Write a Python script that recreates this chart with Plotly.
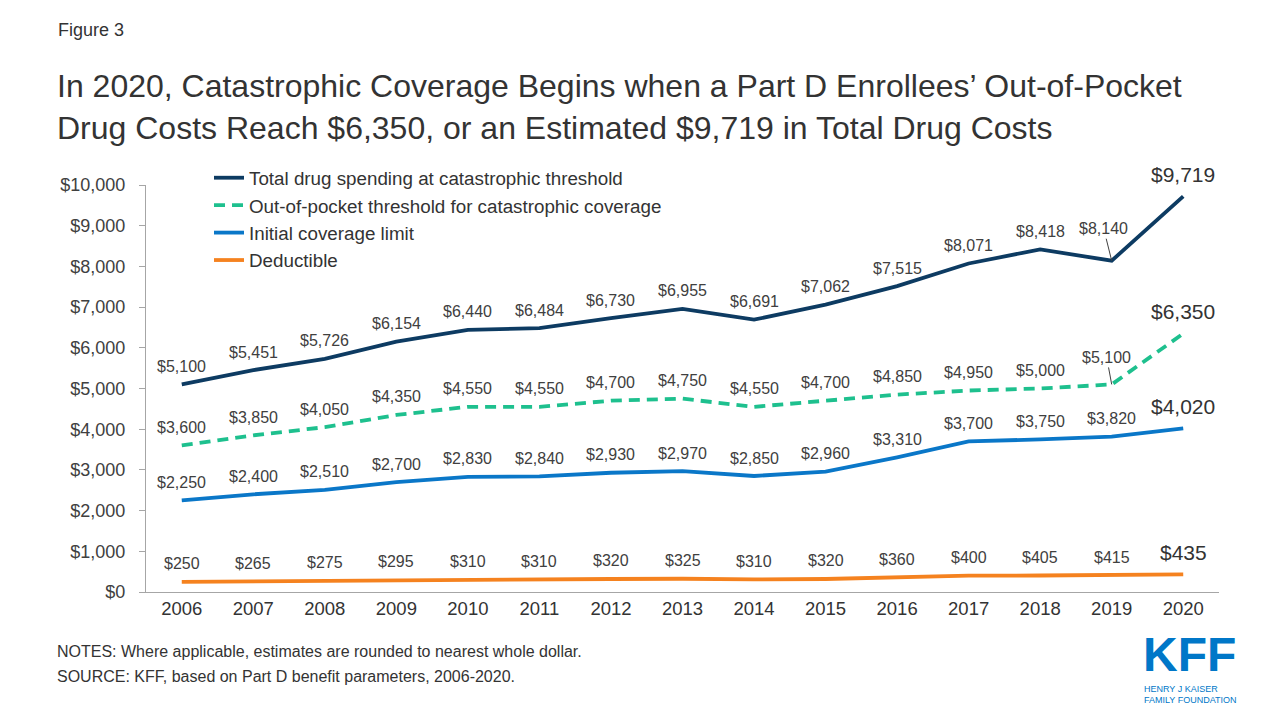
import plotly.graph_objects as go

years = [str(y) for y in range(2006, 2021)]
total_spending = [5100, 5451, 5726, 6154, 6440, 6484, 6730, 6955, 6691, 7062, 7515, 8071, 8418, 8140, 9719]
oop_threshold = [3600, 3850, 4050, 4350, 4550, 4550, 4700, 4750, 4550, 4700, 4850, 4950, 5000, 5100, 6350]
initial_limit = [2250, 2400, 2510, 2700, 2830, 2840, 2930, 2970, 2850, 2960, 3310, 3700, 3750, 3820, 4020]
deductible = [250, 265, 275, 295, 310, 310, 320, 325, 310, 320, 360, 400, 405, 415, 435]

series_names = [
    "Total drug spending at catastrophic threshold",
    "Out-of-pocket threshold for catastrophic coverage",
    "Initial coverage limit",
    "Deductible",
]
series_values = [total_spending, oop_threshold, initial_limit, deductible]
colors = ["#0D3B62", "#1EC08E", "#0A77C8", "#F5821F"]
dashes = ["solid", "11px,7px", "solid", "solid"]
# label offsets (pixels) for 2019 labels that use leader lines
leader = {0: (-8, -32), 1: (-5, -27)}

FONT = "Liberation Sans, Arial, sans-serif"
NARROW = "Liberation Sans Narrow, Arial Narrow, sans-serif"
TXT = "#404040"

W, H = 1280, 720
L, R, T, B = 146, 61, 185, 128
pw, ph = W - L - R, H - T - B


def px(x):
    return (x - L) / pw


def py(y):
    return (H - B - y) / ph


fig = go.Figure()
for name, vals, c, d in zip(series_names, series_values, colors, dashes):
    fig.add_trace(go.Scatter(
        x=years, y=vals, mode="lines", name=name,
        line=dict(color=c, width=3.8, dash=d),
    ))

annotations = []
for s, vals in enumerate(series_values):
    for i, v in enumerate(vals):
        txt = "${:,}".format(v)
        if i == len(vals) - 1:
            annotations.append(dict(x=i, y=v, xref="x", yref="y", text=txt, showarrow=False,
                                    yshift=22, font=dict(size=21, color="#333333", family=FONT)))
        elif i == len(vals) - 2 and s in leader:
            ax, ay = leader[s]
            annotations.append(dict(x=i, y=v, xref="x", yref="y", text=txt, showarrow=True,
                                    arrowhead=0, arrowwidth=1, arrowcolor="#404040",
                                    ax=ax, ay=ay, standoff=0,
                                    font=dict(size=16, color=TXT, family=FONT)))
        else:
            annotations.append(dict(x=i, y=v, xref="x", yref="y", text=txt, showarrow=False,
                                    yshift=18, font=dict(size=16, color=TXT, family=FONT)))

annotations += [
    dict(x=px(56), y=py(30), xref="paper", yref="paper", xanchor="left", yanchor="middle",
         text="Figure 3", showarrow=False, font=dict(size=18, color="#333333", family=FONT)),
    dict(x=px(55), y=py(107), xref="paper", yref="paper", xanchor="left", yanchor="middle",
         align="left",
         text="In 2020, Catastrophic Coverage Begins when a Part D Enrollees’ Out-of-Pocket<br>Drug Costs Reach $6,350, or an Estimated $9,719 in Total Drug Costs",
         showarrow=False, font=dict(size=32, color="#333333", family=FONT)),
    dict(x=px(55), y=py(651), xref="paper", yref="paper", xanchor="left", yanchor="middle",
         text="NOTES: Where applicable, estimates are rounded to nearest whole dollar.",
         showarrow=False, font=dict(size=16, color="#333333", family=FONT)),
    dict(x=px(55), y=py(676), xref="paper", yref="paper", xanchor="left", yanchor="middle",
         text="SOURCE: KFF, based on Part D benefit parameters, 2006-2020.",
         showarrow=False, font=dict(size=16, color="#333333", family=FONT)),
    dict(x=px(1141), y=py(654), xref="paper", yref="paper", xanchor="left", yanchor="middle",
         text="<b>KFF</b>", showarrow=False,
         font=dict(size=48, color="#0077C8", family=NARROW)),
    dict(x=px(1142), y=py(688.5), xref="paper", yref="paper", xanchor="left", yanchor="middle",
         text="HENRY J KAISER", showarrow=False,
         font=dict(size=9, color="#0077C8", family=FONT)),
    dict(x=px(1142), y=py(700), xref="paper", yref="paper", xanchor="left", yanchor="middle",
         text="FAMILY FOUNDATION", showarrow=False,
         font=dict(size=9, color="#0077C8", family=FONT)),
]

fig.update_layout(
    width=W, height=H,
    margin=dict(l=L, r=R, t=T, b=B),
    paper_bgcolor="white", plot_bgcolor="white",
    font=dict(family=FONT, color=TXT),
    showlegend=True,
    legend=dict(x=px(209), y=py(159), xanchor="left", yanchor="top",
                bgcolor="rgba(0,0,0,0)", font=dict(size=18.8, color="#333333", family=FONT),
                itemwidth=30, tracegroupgap=0),
    annotations=annotations,
    xaxis=dict(type="category", range=[-0.5, 14.5], showgrid=False, showline=True,
               linecolor="#A6A6A6", linewidth=1, ticks="", zeroline=False,
               tickfont=dict(size=18.5, color="#333333", family=FONT)),
    yaxis=dict(range=[0, 10000], dtick=1000, showgrid=False, showline=True,
               linecolor="#A6A6A6", linewidth=1, ticks="outside", ticklen=6, tickcolor="#A6A6A6",
               tickprefix="$", tickformat=",d", zeroline=False, ticklabelstandoff=10,
               tickfont=dict(size=18, color="#404040", family=FONT)),
)

fig.write_html("out.html", config={"displayModeBar": False},
               post_script="document.body.style.margin='0';")
